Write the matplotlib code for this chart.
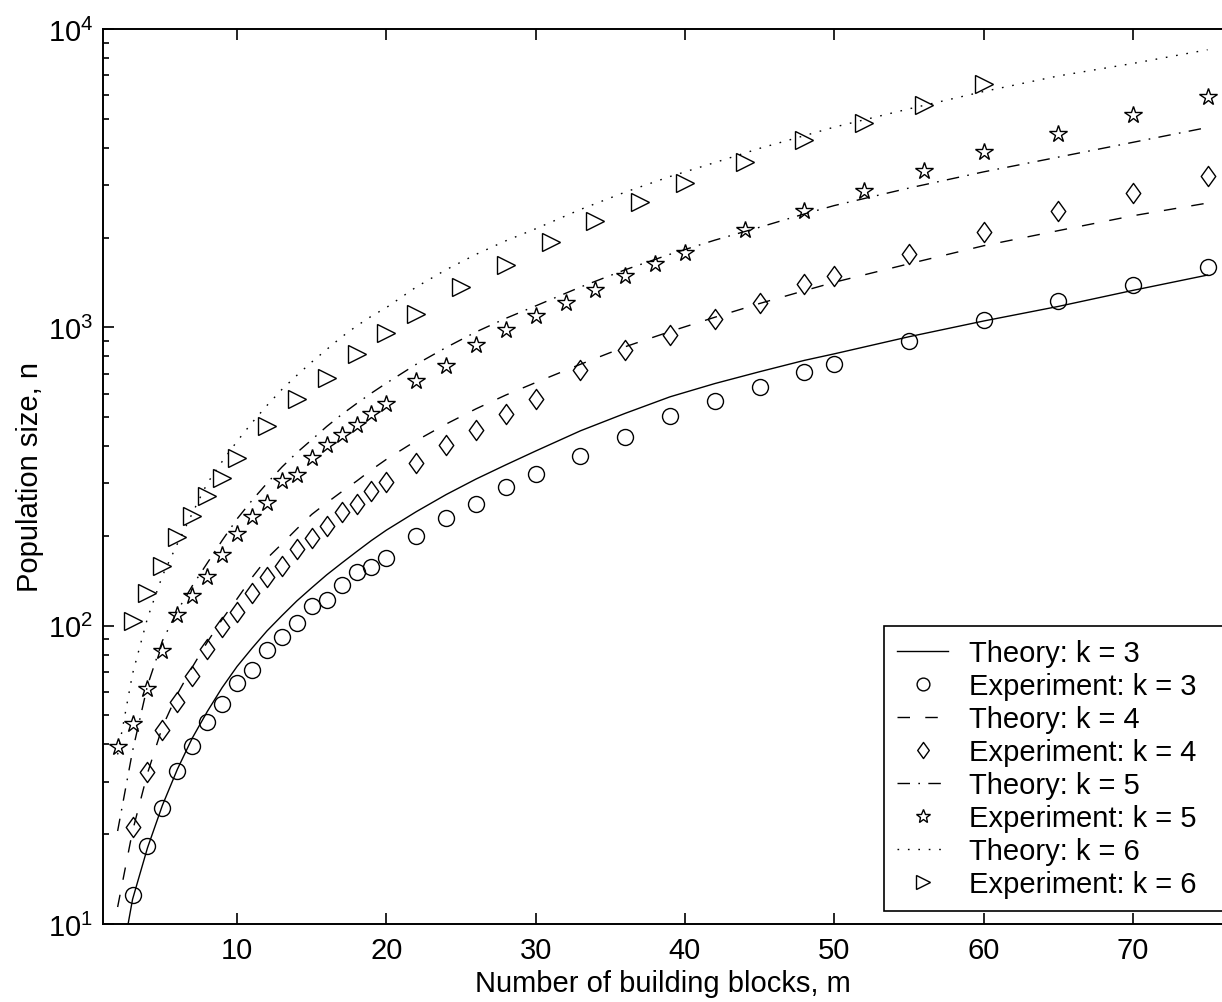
import matplotlib
matplotlib.use('Agg')
import matplotlib.pyplot as plt
from matplotlib.path import Path
from matplotlib.ticker import LogLocator, NullFormatter, FixedLocator

plt.rcParams['font.family'] = ['Liberation Sans', 'DejaVu Sans']
plt.rcParams['mathtext.fontset'] = 'custom'
plt.rcParams['mathtext.rm'] = 'Liberation Sans'
plt.rcParams['mathtext.it'] = 'Liberation Sans:italic'
plt.rcParams['mathtext.bf'] = 'Liberation Sans:bold'

# Theory curves at selected m
m_theory = [2, 3, 4, 5, 6, 7, 8, 9, 10, 11, 12, 13, 14, 15, 16, 17, 18, 19, 20,
            22, 24, 26, 28, 30, 33, 36, 39, 42, 45, 48, 50, 55, 60, 65, 70, 75]
theory_k3 = [6.4, 12.1, 18, 25, 33, 42, 51.5, 62, 73, 84, 96, 108, 121, 134, 148, 162, 177, 193, 209,
             241, 275, 310, 346, 385, 450, 515, 585, 648, 710, 775, 815, 930, 1050, 1175, 1330, 1497]
theory_k4 = [11.4, 20.5, 32, 45.8, 59, 72.6, 88, 105, 123, 145, 168, 188, 211, 236, 258, 281, 305, 333, 361,
             417, 474, 533, 593, 653, 752, 861, 968, 1081, 1202, 1327, 1416, 1633, 1877, 2109, 2366, 2610]
theory_k5 = [20.5, 38, 63, 89, 112, 136, 162, 193, 228, 263, 300, 340, 380, 420, 465, 510, 555, 602, 650,
             752, 856, 965, 1072, 1180, 1365, 1560, 1758, 1960, 2165, 2400, 2560, 2930, 3320, 3720, 4170, 4677]
theory_k6 = [37, 69, 106, 147, 188, 238, 300, 355, 415, 479, 547, 619, 690, 765, 843, 928, 1010, 1090, 1165,
             1365, 1560, 1756, 1950, 2140, 2484, 2840, 3203, 3567, 3980, 4390, 4690, 5398, 6173, 6960, 7665, 8520]

# Experiments
m_exp_k3 = [3, 4, 5, 6, 7, 8, 9, 10, 11, 12, 13, 14, 15, 16, 17, 18, 19, 20,
            22, 24, 26, 28, 30, 33, 36, 39, 42, 45, 48, 50, 55, 60, 65, 70, 75]
exp_k3 = [12.5, 18.2, 24.5, 32.6, 39.4, 47.4, 54.7, 64.2, 71, 83, 91.8, 102, 116, 122, 137, 151, 157, 169,
          200, 230, 256, 292, 322, 371, 428, 503, 568, 629, 711, 754, 902, 1058, 1222, 1390, 1596]
m_exp_k4 = m_exp_k3
exp_k4 = [21.1, 32.2, 44.8, 55.6, 67.6, 83.5, 98.7, 111, 128.5, 146, 159, 181, 196, 216, 240, 256, 283, 302,
          352, 404, 453, 512, 575, 721, 841, 944, 1066, 1203, 1397, 1489, 1762, 2091, 2459, 2819, 3223]
m_exp_k5 = [2, 3, 4, 5, 6, 7, 8, 9, 10, 11, 12, 13, 14, 15, 16, 17, 18, 19, 20,
            22, 24, 26, 28, 30, 32, 34, 36, 38, 40, 44, 48, 52, 56, 60, 65, 70, 75]
exp_k5 = [39.1, 46.8, 61.3, 82, 109, 126, 146, 173, 203, 231, 258, 306, 321, 366, 403, 435, 470, 512, 553,
          662, 740, 875, 979, 1094, 1206, 1334, 1489, 1631, 1770, 2119, 2458, 2870, 3350, 3880, 4446, 5150, 5930]
m_exp_k6 = [3, 4, 5, 6, 7, 8, 9, 10, 12, 14, 16, 18, 20, 22, 25, 28, 31, 34, 37, 40, 44, 48, 52, 56, 60]
exp_k6 = [104, 129, 159, 198, 234, 273, 312, 364, 468, 575, 676, 816, 955, 1108, 1361, 1622, 1927, 2278, 2624,
          3047, 3590, 4246, 4848, 5575, 6524]

diamond = Path([(0, -1), (0.72, 0), (0, 1), (-0.72, 0), (0, -1)],
               [Path.MOVETO, Path.LINETO, Path.LINETO, Path.LINETO, Path.CLOSEPOLY])

fig = plt.figure(figsize=(12.22, 10.03), dpi=100)
ax = fig.add_axes([102.7 / 1222, 78 / 1003, (1222.5 - 102.7) / 1222, 895 / 1003])

lw = 1.0
mk = dict(linestyle='none', markerfacecolor='none', markeredgecolor='k', markeredgewidth=1.0)

ax.plot(m_theory, theory_k3, color='k', lw=lw, linestyle='-', label='Theory: k = 3')
ax.plot(m_exp_k3, exp_k3, marker='o', markersize=11.5, label='Experiment: k = 3', **mk)
ax.plot(m_theory, theory_k4, color='k', lw=lw, dashes=(9, 11), label='Theory: k = 4')
ax.plot(m_exp_k4, exp_k4, marker=diamond, markersize=14.5, label='Experiment: k = 4', **mk)
ax.plot(m_theory, theory_k5, color='k', lw=lw, dashes=(9, 6, 1.2, 6), label='Theory: k = 5')
ax.plot(m_exp_k5, exp_k5, marker='*', markersize=13, label='Experiment: k = 5', **mk)
ax.plot(m_theory, theory_k6, color='k', lw=lw, dashes=(1.2, 6.3), label='Theory: k = 6')
ax.plot(m_exp_k6, exp_k6, marker='>', markersize=12.5, label='Experiment: k = 6', **mk)

ax.set_yscale('log')
ax.set_xlim(1, 76)
ax.set_ylim(10, 1e4)
ax.xaxis.set_major_locator(FixedLocator([10, 20, 30, 40, 50, 60, 70]))
ax.yaxis.set_major_locator(LogLocator(base=10))
ax.yaxis.set_minor_locator(LogLocator(base=10, subs=range(2, 10)))
ax.yaxis.set_minor_formatter(NullFormatter())

ax.tick_params(which='both', direction='in', top=True, right=False, width=1.2, colors='k')
ax.tick_params(which='major', length=8, labelsize=21, pad=7)
ax.tick_params(which='minor', length=4)
ax.tick_params(axis='x', which='major', pad=9)
for side in ['left', 'bottom', 'top']:
    ax.spines[side].set_linewidth(1.4)
ax.spines['right'].set_visible(False)

ax.set_xlabel('Number of building blocks, m', fontsize=21)
ax.set_ylabel('Population size, n', fontsize=21)
ax.xaxis.set_label_coords(0.5, -0.05)
ax.yaxis.set_label_coords(-0.052, 0.5)

leg = ax.legend(loc='lower left', bbox_to_anchor=(884 / 1222, 91 / 1003, 400 / 1222, 287 / 1003),
                bbox_transform=fig.transFigure, mode='expand', fontsize=21, fancybox=False,
                framealpha=1, edgecolor='k', borderaxespad=0, handlelength=1.75, handletextpad=0.7,
                labelspacing=0.17, borderpad=0.45, markerscale=0.8)
leg.get_frame().set_linewidth(1.2)

plt.savefig('out.png', dpi=100)
